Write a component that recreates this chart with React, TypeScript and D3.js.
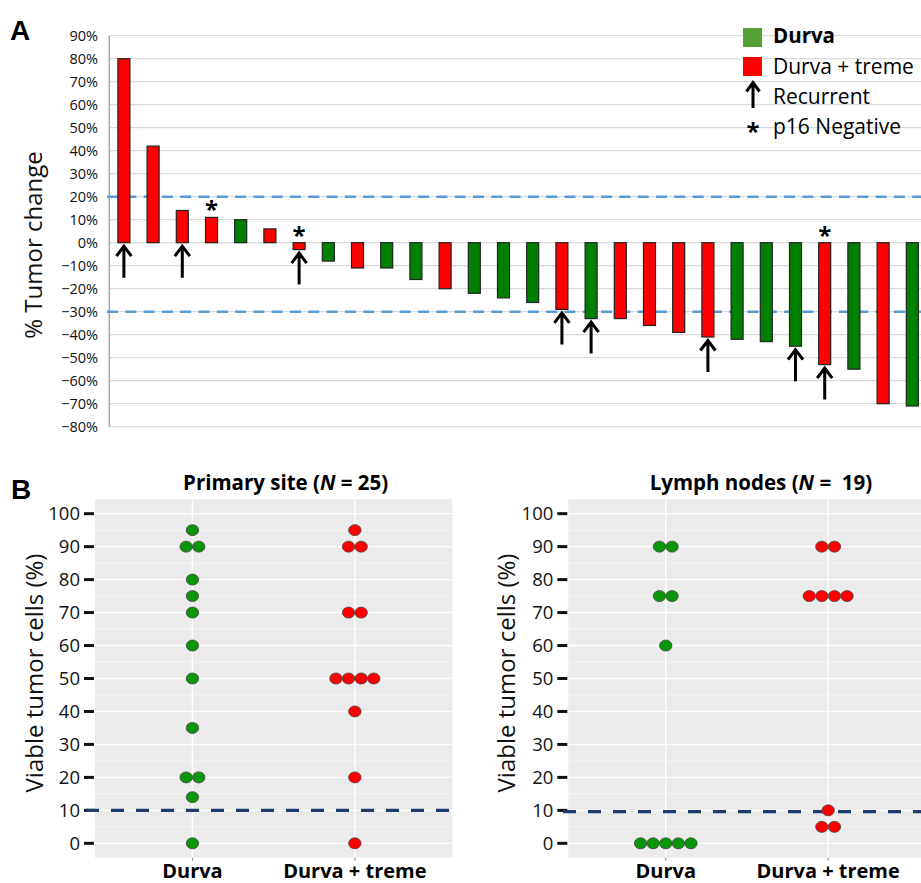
import React from "react";
import * as d3 from "d3";

// ---------- Panel A data ----------
const tumorChange = [80, 42, 14, 11, 10, 6, -3, -8, -11, -11, -16, -20, -22, -24, -26, -29, -33, -33, -36, -39, -41, -42, -43, -45, -53, -55, -70, -71];
const armA = ["T", "T", "T", "T", "D", "T", "T", "D", "T", "D", "D", "T", "D", "D", "D", "T", "D", "T", "T", "T", "T", "D", "D", "D", "T", "D", "T", "D"];
const recurrentIdx = [0, 2, 6, 15, 16, 20, 23, 24];
const p16NegIdx = [3, 6, 24];
const yTicksA = d3.range(-80, 91, 10);
const thresholdsA = [20, -30];
const legendItems = ["Durva", "Durva + treme", "Recurrent", "p16 Negative"];

// ---------- Panel B data ----------
const categoriesB = ["Durva", "Durva + treme"];
const primaryDurva = [95, 90, 90, 80, 75, 70, 60, 50, 35, 20, 20, 14, 0];
const primaryCombo = [95, 90, 90, 70, 70, 50, 50, 50, 50, 40, 20, 0];
const lymphDurva = [90, 90, 75, 75, 60, 0, 0, 0, 0, 0];
const lymphCombo = [90, 90, 75, 75, 75, 75, 10, 5, 5];
const yTicksB = d3.range(0, 101, 10);
const minorTicksB = d3.range(5, 100, 10);
const thresholdPrimary = 10;
const thresholdLymph = 9.6;

const RED = "#ff0000";
const GREEN_BAR = "#008000";
const GREEN_LEG = "#55a035";
const GREEN_DOT = "#0a960a";
const FONT = "'Open Sans', sans-serif";

function Arrow({ x, tip, len = 32, head = 7.5 }: { x: number; tip: number; len?: number; head?: number }) {
  return (
    <path
      d={`M${x},${tip + 1}L${x},${tip + len}M${x - head},${tip + head + 3}L${x},${tip + 0.5}L${x + head},${tip + head + 3}`}
      fill="none"
      stroke="#000"
      strokeWidth={3}
    />
  );
}

function PanelA() {
  const x0 = 109.3;
  const step = 29.2;
  const xBand = d3
    .scaleBand<number>()
    .domain(d3.range(tumorChange.length))
    .range([x0, x0 + step * tumorChange.length])
    .paddingInner(0)
    .paddingOuter(0);
  const y = d3.scaleLinear().domain([-80, 90]).range([426.7, 35.7]);
  const bw = 12;
  const cx = (i: number) => (xBand(i) as number) + xBand.bandwidth() / 2;
  return (
    <g fontFamily={FONT}>
      <text x={10} y={40} fontSize={28} fontWeight="bold" fontFamily="'Liberation Sans', Arial, sans-serif">A</text>
      {yTicksA.map((t) => (
        <g key={t}>
          <line x1={x0} x2={921} y1={y(t)} y2={y(t)} stroke="#d9d9d9" strokeWidth={1.2} />
          <text x={98} y={y(t)} dy="0.36em" textAnchor="end" fontSize={14.5} fill="#111">
            {(t < 0 ? "\u2212" + Math.abs(t) : t) + "%"}
          </text>
        </g>
      ))}
      <line x1={x0} x2={x0} y1={y(90)} y2={y(-80)} stroke="#a6a6a6" strokeWidth={1.5} />
      {thresholdsA.map((t) => (
        <line key={t} x1={107} x2={921} y1={y(t)} y2={y(t)} stroke="#5b9bd5" strokeWidth={2.6} strokeDasharray="11,7.3" />
      ))}
      {tumorChange.map((v, i) => (
        <rect
          key={i}
          x={cx(i) - bw / 2}
          y={y(Math.max(0, v))}
          width={bw}
          height={Math.abs(y(v) - y(0))}
          fill={armA[i] === "D" ? GREEN_BAR : RED}
          stroke="#222"
          strokeWidth={1.2}
        />
      ))}
      {recurrentIdx.map((i) => (
        <Arrow key={i} x={cx(i)} tip={y(Math.min(0, tumorChange[i])) + 3} />
      ))}
      {p16NegIdx.map((i) => (
        <text key={i} x={cx(i)} y={y(Math.max(0, tumorChange[i])) - 12 + 13} textAnchor="middle" fontSize={24} fontWeight="bold">*</text>
      ))}
      {/* legend */}
      <rect x={743} y={28} width={19} height={19} fill={GREEN_LEG} />
      <rect x={743} y={57} width={19} height={19} fill={RED} />
      <Arrow x={753} tip={82} len={26} head={6.5} />
      <text x={753} y={140} textAnchor="middle" fontSize={24} fontWeight="bold">*</text>
      <text x={773} y={43} fontSize={20.5} fontWeight="bold">{legendItems[0]}</text>
      <text x={773} y={73.5} fontSize={21}>{legendItems[1]}</text>
      <text x={773} y={103.5} fontSize={21}>{legendItems[2]}</text>
      <text x={773} y={133.5} fontSize={21}>{legendItems[3]}</text>
      <text transform="translate(42,245) rotate(-90)" textAnchor="middle" fontSize={24} fill="#111">% Tumor change</text>
    </g>
  );
}

function DotPanel({
  x0,
  width,
  title,
  titleN,
  durva,
  combo,
  threshold,
  dashStart,
  labelX,
  titleShift,
}: {
  x0: number;
  width: number;
  title: string;
  titleN: string;
  durva: number[];
  combo: number[];
  threshold: number;
  dashStart: number;
  labelX: number;
  titleShift: number;
}) {
  const top = 499.3;
  const bottom = 857.7;
  const y = d3.scaleLinear().domain([-4.36, 104.36]).range([bottom, top]);
  const x = d3.scaleLinear().domain([0.4, 2.6]).range([x0, x0 + width]);
  const spacing = 12.6;
  const groups = [durva, combo];
  const dots: { cx: number; cy: number; c: number }[] = [];
  groups.forEach((vals, gi) => {
    const counts = d3.rollup(vals, (v) => v.length, (d) => d);
    counts.forEach((n, val) => {
      for (let k = 0; k < n; k++) {
        dots.push({ cx: x(gi + 1) + (k - (n - 1) / 2) * spacing, cy: y(val), c: gi });
      }
    });
  });
  const titleCx = x0 + width / 2 + titleShift;
  return (
    <g fontFamily={FONT}>
      <rect x={x0} y={top} width={width} height={bottom - top} fill="#ebebeb" />
      {minorTicksB.map((t) => (
        <line key={"m" + t} x1={x0} x2={x0 + width} y1={y(t)} y2={y(t)} stroke="#f7f7f7" strokeWidth={0.8} />
      ))}
      {yTicksB.map((t) => (
        <line key={"g" + t} x1={x0} x2={x0 + width} y1={y(t)} y2={y(t)} stroke="#ffffff" strokeWidth={1.4} />
      ))}
      {[1, 2].map((c) => (
        <line key={c} x1={x(c)} x2={x(c)} y1={top} y2={bottom} stroke="#ffffff" strokeWidth={1.4} />
      ))}
      {[1, 2].map((c) => (
        <line key={"xt" + c} x1={x(c)} x2={x(c)} y1={bottom} y2={bottom + 3} stroke="#888" strokeWidth={1} />
      ))}
      {yTicksB.map((t) => (
        <g key={"t" + t}>
          <line x1={x0 - 11} x2={x0 - 1} y1={y(t)} y2={y(t)} stroke="#111" strokeWidth={3} />
          <text x={x0 - 15} y={y(t)} dy="0.36em" textAnchor="end" fontSize={18.5} fill="#111">{t}</text>
        </g>
      ))}
      <line
        x1={dashStart}
        x2={x0 + width}
        y1={y(threshold)}
        y2={y(threshold)}
        stroke="#1f3d6e"
        strokeWidth={3.2}
        strokeDasharray="13,12"
      />
      {dots.map((d, i) => (
        <ellipse
          key={i}
          cx={d.cx}
          cy={d.cy}
          rx={6.2}
          ry={5.5}
          fill={d.c === 0 ? GREEN_DOT : RED}
          stroke="#444"
          strokeWidth={0.8}
        />
      ))}
      <text x={titleCx} y={490} textAnchor="middle" fontSize={20.5} fontWeight="bold">
        {title}(<tspan fontStyle="italic">N</tspan>
        {titleN}
      </text>
      {categoriesB.map((c, i) => (
        <text key={c} x={x(i + 1)} y={878} textAnchor="middle" fontSize={20} fontWeight="bold">{c}</text>
      ))}
      <text transform={`translate(${labelX},673) rotate(-90)`} textAnchor="middle" fontSize={24} fill="#111">
        Viable tumor cells (%)
      </text>
    </g>
  );
}

export default function App() {
  return (
    <svg width={921} height={883} style={{ position: "absolute", left: 0, top: 0, background: "#fff" }}>
      <rect x={0} y={0} width={921} height={883} fill="#fff" />
      <PanelA />
      <text x={11} y={499} fontSize={28} fontWeight="bold" fontFamily="'Liberation Sans', Arial, sans-serif">B</text>
      <DotPanel
        x0={95}
        width={357.3}
        title="Primary site "
        titleN=" = 25)"
        durva={primaryDurva}
        combo={primaryCombo}
        threshold={thresholdPrimary}
        dashStart={86}
        labelX={43}
        titleShift={12}
      />
      <DotPanel
        x0={568.3}
        width={357.3}
        title="Lymph nodes "
        titleN={" =\u00a0 19)"}
        durva={lymphDurva}
        combo={lymphCombo}
        threshold={thresholdLymph}
        dashStart={563}
        labelX={515}
        titleShift={14}
      />
    </svg>
  );
}
